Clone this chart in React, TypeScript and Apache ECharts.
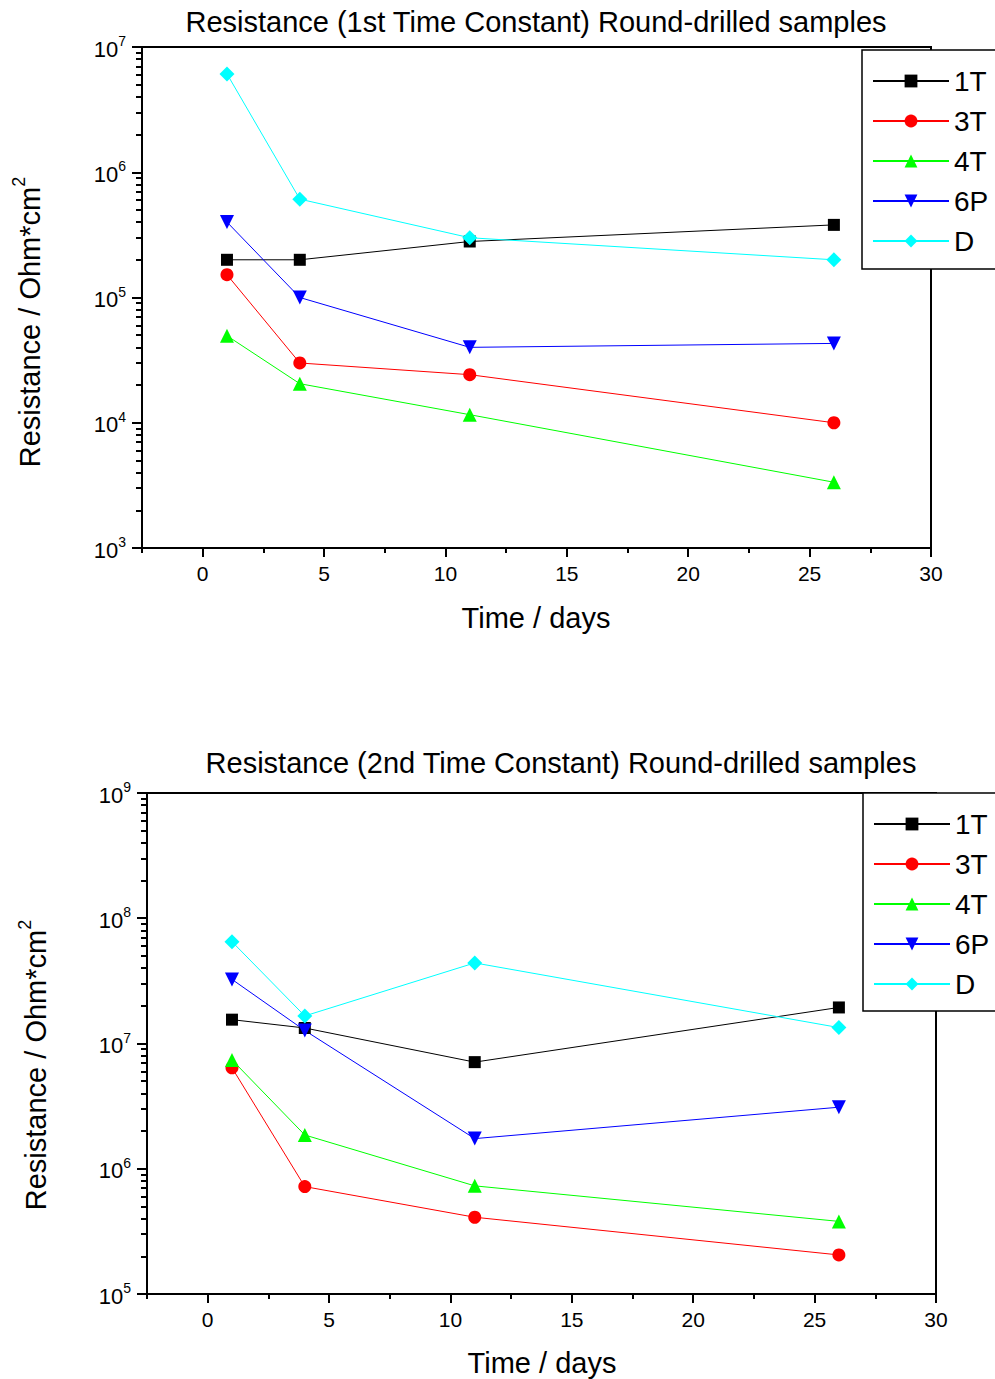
import React, { useEffect, useRef } from 'react';
import * as echarts from 'echarts';

const days = [1, 4, 11, 26];
const seriesNames = ['1T', '3T', '4T', '6P', 'D'];

// Top chart: 1st time constant (Ohm*cm^2)
const top1T = [2.0e5, 2.0e5, 2.8e5, 3.8e5];
const top3T = [1.52e5, 3.0e4, 2.42e4, 1.0e4];
const top4T = [4.95e4, 2.05e4, 1.16e4, 3.35e3];
const top6P = [4.0e5, 1.0e5, 4.0e4, 4.3e4];
const topD = [6.1e6, 6.1e5, 3.0e5, 2.0e5];

// Bottom chart: 2nd time constant (Ohm*cm^2)
const bot1T = [1.55e7, 1.33e7, 7.1e6, 1.94e7];
const bot3T = [6.4e6, 7.2e5, 4.1e5, 2.05e5];
const bot4T = [7.4e6, 1.86e6, 7.3e5, 3.8e5];
const bot6P = [3.25e7, 1.27e7, 1.74e6, 3.1e6];
const botD = [6.5e7, 1.66e7, 4.4e7, 1.34e7];

const topYTicks = [1e3, 1e4, 1e5, 1e6, 1e7];
const botYTicks = [1e5, 1e6, 1e7, 1e8, 1e9];
const xTicks = [0, 5, 10, 15, 20, 25, 30];
const xMinorTicks = [-2.5, 2.5, 7.5, 12.5, 17.5, 22.5, 27.5];
const minorMultipliers = [2, 3, 4, 5, 6, 7, 8, 9];

const topTitle = 'Resistance (1st Time Constant) Round-drilled samples';
const botTitle = 'Resistance (2nd Time Constant) Round-drilled samples';
const xName = 'Time / days';

const FONT = "'Liberation Sans', Arial, Helvetica, sans-serif";
const colors = ['#000000', '#ff0000', '#00ff00', '#0000ff', '#00ffff'];
const symbols = ['rect', 'circle', 'triangle', 'path://M0,0 L10,0 L5,9 Z', 'diamond'];
const symbolSizes = [12, 13, 14, 14, 15];

function minorsFor(ticks: number[]) {
  const out: number[] = [];
  for (let i = 0; i < ticks.length - 1; i++) {
    for (const m of minorMultipliers) out.push(ticks[i] * m);
  }
  return out;
}

const axisLineStyle = { color: '#000', width: 2 };

function xAxes(gridIndex: number) {
  return [
    {
      type: 'value', gridIndex, position: 'bottom', min: -2.5, max: 30,
      axisLine: { show: true, onZero: false, lineStyle: axisLineStyle },
      axisTick: { show: true, customValues: xTicks, length: 9, lineStyle: axisLineStyle },
      axisLabel: { customValues: xTicks, fontSize: 21, color: '#000', fontFamily: FONT, margin: 15 },
      splitLine: { show: false },
    },
    {
      type: 'value', gridIndex, position: 'bottom', min: -2.5, max: 30,
      axisLine: { show: false, onZero: false },
      axisTick: { show: true, customValues: xMinorTicks, length: 5, lineStyle: axisLineStyle },
      axisLabel: { show: false },
      splitLine: { show: false },
    },
  ];
}

function yAxes(gridIndex: number, ticks: number[]) {
  const min = ticks[0];
  const max = ticks[ticks.length - 1];
  return [
    {
      type: 'log', logBase: 10, gridIndex, position: 'left', min, max,
      axisLine: { show: true, onZero: false, lineStyle: axisLineStyle },
      axisTick: { show: true, customValues: ticks, length: 10, lineStyle: axisLineStyle },
      axisLabel: {
        customValues: ticks,
        margin: 16,
        formatter: (v: number) => `{b|10}{s|${Math.round(Math.log10(v))}}`,
        rich: {
          b: { fontSize: 22, fontFamily: FONT, color: '#000', lineHeight: 26, verticalAlign: 'bottom' },
          s: { fontSize: 14, fontFamily: FONT, color: '#000', lineHeight: 26, verticalAlign: 'top' },
        },
      },
      splitLine: { show: false },
    },
    {
      type: 'log', logBase: 10, gridIndex, position: 'left', min, max,
      axisLine: { show: false, onZero: false },
      axisTick: { show: true, customValues: minorsFor(ticks), length: 6, lineStyle: axisLineStyle },
      axisLabel: { show: false },
      splitLine: { show: false },
    },
  ];
}

function makeSeries(values: number[][], xi: number, yi: number) {
  return values.map((vals, i) => ({
    type: 'line',
    name: seriesNames[i],
    xAxisIndex: xi,
    yAxisIndex: yi,
    data: days.map((d, j) => [d, vals[j]]),
    symbol: symbols[i],
    symbolSize: symbolSizes[i],
    showSymbol: true,
    itemStyle: { color: colors[i] },
    lineStyle: { color: colors[i], width: 1 },
    emphasis: { disabled: true },
  }));
}

function legendAt(left: number, top: number, padding: number[]) {
  return {
    orient: 'vertical', left, top,
    data: seriesNames,
    itemWidth: 76, itemHeight: 16, itemGap: 12,
    padding,
    borderColor: '#000', borderWidth: 1.5, backgroundColor: '#fff',
    selectedMode: false,
    textStyle: { fontSize: 28, lineHeight: 28, color: '#000', fontFamily: FONT },
  };
}

function yName(x: number, y: number) {
  return {
    type: 'text', x, y, rotation: Math.PI / 2,
    style: {
      text: '{b|Resistance / Ohm*cm}{s|2}',
      align: 'center', verticalAlign: 'middle',
      rich: {
        b: { fontSize: 29, fontFamily: FONT, fill: '#000', lineHeight: 34, verticalAlign: 'bottom' },
        s: { fontSize: 18, fontFamily: FONT, fill: '#000', lineHeight: 34, verticalAlign: 'top' },
      },
    },
  };
}

function plainText(x: number, y: number, text: string) {
  return {
    type: 'text', x, y,
    style: { text, fontSize: 29, fontFamily: FONT, fill: '#000', align: 'center', verticalAlign: 'middle' },
  };
}

export default function App() {
  const ref = useRef<HTMLDivElement>(null);
  useEffect(() => {
    document.body.style.margin = '0';
    if (!ref.current) return;
    const chart = echarts.init(ref.current, undefined, { renderer: 'svg' });
    chart.setOption({
      animation: false,
      backgroundColor: '#fff',
      grid: [
        { left: 142, top: 47, width: 789, height: 501, show: true, borderColor: '#000', borderWidth: 2, backgroundColor: 'transparent' },
        { left: 147, top: 793, width: 789, height: 501, show: true, borderColor: '#000', borderWidth: 2, backgroundColor: 'transparent' },
      ],
      xAxis: [...xAxes(0), ...xAxes(1)],
      yAxis: [...yAxes(0, topYTicks), ...yAxes(1, botYTicks)],
      legend: [legendAt(862, 50, [17, 24, 14, 10]), legendAt(863, 793, [17, 24, 13, 10])],
      series: [
        ...makeSeries([top1T, top3T, top4T, top6P, topD], 0, 0),
        ...makeSeries([bot1T, bot3T, bot4T, bot6P, botD], 2, 2),
      ],
      graphic: [
        plainText(536, 22, topTitle),
        plainText(561, 763, botTitle),
        plainText(536, 618, xName),
        plainText(542, 1363, xName),
        yName(27, 322),
        yName(33, 1065),
      ],
    });
    return () => chart.dispose();
  }, []);
  return <div ref={ref} style={{ width: 995, height: 1379 }} />;
}
